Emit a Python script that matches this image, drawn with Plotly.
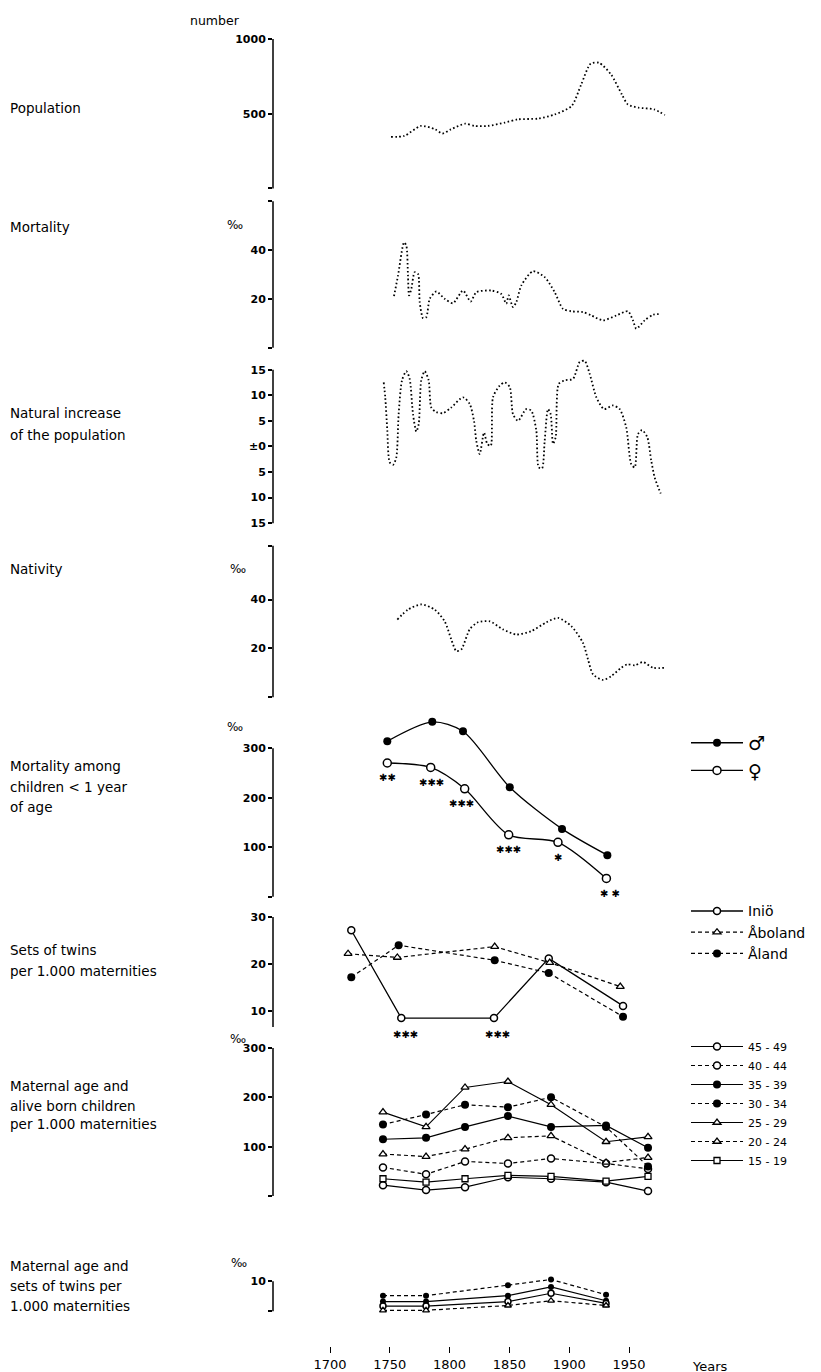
import plotly.graph_objects as go

# ---------------- DATA ----------------
pop_years = [1751, 1762, 1776, 1788, 1794, 1801, 1813, 1821, 1832, 1846, 1857, 1874,
             1888, 1902, 1910, 1918, 1925, 1935, 1944, 1949, 1958, 1971, 1980]
pop_values = [345, 351, 418, 395, 367, 395, 433, 418, 418, 440, 462, 467,
              495, 551, 695, 835, 840, 762, 629, 562, 540, 529, 491]

mort_years = [1753.5, 1756.9, 1761.9, 1763.8, 1765.2, 1766.1, 1768.0, 1770.8, 1773.6, 1775.0,
              1777.8, 1780.5, 1783.4, 1788.9, 1795.9, 1802.8, 1811.2, 1817.6, 1822.3, 1834.9,
              1843.2, 1847.4, 1849.4, 1853.0, 1855.8, 1860.0, 1869.7, 1879.5, 1887.9, 1894.8,
              1901.8, 1911.5, 1918.5, 1928.3, 1939.4, 1949.2, 1953.3, 1956.1, 1963.1, 1970.1, 1977.0]
mort_values = [21.1, 29.6, 43.1, 41.8, 29.6, 21.4, 24.1, 30.9, 30.2, 18.7,
               12.1, 12.5, 20.0, 23.0, 20.0, 18.2, 23.4, 18.9, 22.7, 23.4,
               22.0, 18.0, 21.4, 16.6, 18.7, 25.5, 31.3, 28.9, 22.7, 15.9,
               14.9, 14.6, 13.2, 11.2, 13.2, 14.9, 11.2, 7.8, 11.2, 13.5, 13.8]

nat_years = [1744.9, 1746.2, 1747.9, 1749.9, 1752.7, 1755.4, 1757.4, 1760.2, 1763.8, 1766.6,
             1769.4, 1772.2, 1774.2, 1776.3, 1779.2, 1782.5, 1784.7, 1788.9, 1794.5, 1801.4,
             1811.2, 1816.8, 1820.4, 1822.3, 1825.2, 1828.8, 1831.5, 1834.4, 1836.3, 1841.9,
             1846.1, 1850.3, 1853.0, 1857.2, 1864.1, 1868.3, 1872.5, 1874.5, 1877.3, 1879.5,
             1882.3, 1884.5, 1886.5, 1888.7, 1891.2, 1896.2, 1903.2, 1908.8, 1913.0, 1917.1,
             1922.7, 1929.1, 1936.6, 1942.2, 1947.7, 1951.9, 1954.8, 1957.5, 1960.9, 1965.3,
             1968.6, 1971.5, 1976.5]
nat_values = [12.5, 9.6, 3.1, -3.1, -3.6, -2.2, 6.3, 12.9, 14.7, 13.2,
              6.3, 2.9, 4.4, 12.9, 14.7, 12.9, 7.6, 6.7, 6.5, 7.6,
              9.6, 8.3, 5.0, 1.1, -1.5, 2.7, 0.5, 0.1, 9.6, 11.9,
              12.5, 11.6, 6.3, 5.0, 7.3, 7.0, 3.1, -4.1, -4.3, 1.1,
              7.3, 6.3, 0.5, 1.8, 12.2, 12.9, 13.2, 16.5, 16.7, 14.2,
              9.6, 7.3, 8.0, 7.3, 3.7, -3.5, -4.1, 2.4, 3.2, 1.8,
              -2.8, -6.1, -9.2]

nativ_years = [1756.3, 1765.2, 1776.3, 1787.5, 1795.9, 1801.4, 1805.6, 1809.8, 1816.8, 1823.7,
               1833.5, 1844.6, 1855.8, 1868.3, 1880.9, 1890.6, 1901.8, 1911.5, 1915.7, 1919.9,
               1928.3, 1935.2, 1943.6, 1948.6, 1954.8, 1961.7, 1970.1, 1981.2]
nativ_values = [31.8, 35.9, 38.0, 35.9, 31.1, 23.7, 18.9, 19.6, 27.8, 30.7,
                31.1, 27.8, 25.7, 27.1, 30.7, 32.5, 29.1, 22.3, 15.5, 9.4,
                7.1, 8.7, 12.1, 13.5, 13.1, 14.4, 12.1, 12.1]

child_male_years = [1747.9, 1785.5, 1811.2, 1850.3, 1894.0, 1931.9]
child_male_values = [314, 353, 334, 221, 137, 84]
child_female_years = [1747.9, 1784.2, 1812.6, 1849.4, 1890.6, 1931.1]
child_female_values = [270, 261, 218, 125, 110, 37]
child_signif = ["✱✱", "✱✱✱", "✱✱✱", "✱✱✱", "✱", "✱ ✱"]

twin_inio_years = [1717.8, 1759.6, 1837.1, 1882.9, 1945.0]
twin_inio_values = [27.2, 8.5, 8.5, 21.2, 11.1]
twin_inio_signif = ["", "✱✱✱", "✱✱✱", "", ""]
twin_aboland_years = [1715.1, 1756.3, 1837.7, 1883.7, 1942.7]
twin_aboland_values = [22.2, 21.4, 23.7, 20.3, 15.2]
twin_aland_years = [1717.8, 1757.4, 1837.7, 1882.9, 1945.0]
twin_aland_values = [17.2, 24.0, 20.8, 18.1, 8.8]

mat_years = [1744.3, 1780.3, 1812.9, 1848.8, 1884.8, 1930.8, 1965.9]
mat_45_49 = [22, 12, 18, 38, 35, 28, 10]
mat_40_44 = [58, 44, 70, 66, 76, 66, 55]
mat_35_39 = [115, 118, 140, 162, 140, 143, 98]
mat_30_34 = [145, 165, 185, 180, 200, 140, 60]
mat_25_29 = [170, 140, 220, 232, 185, 110, 120]
mat_20_24 = [85, 80, 95, 118, 122, 68, 78]
mat_15_19 = [35, 28, 35, 42, 40, 30, 40]

mt_years = [1744.3, 1780.3, 1848.8, 1884.8, 1930.8]
mt_30_34 = [5.2, 5.2, 8.7, 10.6, 5.5]
mt_35_39 = [3.2, 3.2, 5.2, 8.1, 3.5]
mt_45_49 = [1.7, 1.7, 3.2, 6.0, 2.6]
mt_20_24 = [0.3, 0.3, 1.9, 3.5, 1.9]

x_ticks = [1700, 1750, 1800, 1850, 1900, 1950]

# ---------------- LAYOUT HELPERS ----------------
W, H = 821, 1372
FONT = "DejaVu Sans"


def py(p):
    return (H - p) / H


def px(p):
    return p / W


X0_PX, X1_PX = 265, 680
YEAR_AT_X0 = 1700 + (X0_PX - 322) / 1.196
YEAR_AT_X1 = 1700 + (X1_PX - 322) / 1.196

fig = go.Figure()

DOT = "1.6px,2.4px"
DASH = "4px,3px"


def dotted(x, y, ax):
    fig.add_trace(go.Scatter(x=x, y=y, mode="lines", xaxis="x", yaxis=ax, showlegend=False,
                             line=dict(color="black", width=1.8, dash=DOT, shape="spline", smoothing=0.7),
                             hoverinfo="skip"))


dotted(pop_years, pop_values, "y")
dotted(mort_years, mort_values, "y2")
dotted(nat_years, nat_values, "y3")
dotted(nativ_years, nativ_values, "y4")

# children mortality
fig.add_trace(go.Scatter(x=child_male_years, y=child_male_values, mode="lines+markers", name="♂",
                         xaxis="x", yaxis="y5", legend="legend",
                         line=dict(color="black", width=1.3, shape="spline", smoothing=0.8),
                         marker=dict(symbol="circle", size=8, color="black")))
fig.add_trace(go.Scatter(x=child_female_years, y=child_female_values, mode="lines+markers", name="♀",
                         xaxis="x", yaxis="y5", legend="legend",
                         line=dict(color="black", width=1.3, shape="spline", smoothing=0.8),
                         marker=dict(symbol="circle", size=8, color="white",
                                     line=dict(color="black", width=1.5))))

# twins
open_c = dict(symbol="circle", size=7, color="white", line=dict(color="black", width=1.5))
fill_c = dict(symbol="circle", size=8, color="black")
open_t = dict(symbol="triangle-up", size=7, color="white", line=dict(color="black", width=1.3))
open_s = dict(symbol="square", size=6, color="white", line=dict(color="black", width=1.3))

fig.add_trace(go.Scatter(x=twin_inio_years, y=twin_inio_values, mode="lines+markers", name="Iniö",
                         xaxis="x", yaxis="y6", legend="legend2",
                         line=dict(color="black", width=1.3), marker=open_c))
fig.add_trace(go.Scatter(x=twin_aboland_years, y=twin_aboland_values, mode="lines+markers", name="Åboland",
                         xaxis="x", yaxis="y6", legend="legend2",
                         line=dict(color="black", width=1.2, dash=DASH), marker=open_t))
fig.add_trace(go.Scatter(x=twin_aland_years, y=twin_aland_values, mode="lines+markers", name="Åland",
                         xaxis="x", yaxis="y6", legend="legend2",
                         line=dict(color="black", width=1.2, dash=DASH), marker=fill_c))

# maternal age
mat_series = [
    ("45 - 49", mat_45_49, "solid", open_c),
    ("40 - 44", mat_40_44, DASH, open_c),
    ("35 - 39", mat_35_39, "solid", fill_c),
    ("30 - 34", mat_30_34, DASH, fill_c),
    ("25 - 29", mat_25_29, "solid", open_t),
    ("20 - 24", mat_20_24, DASH, open_t),
    ("15 - 19", mat_15_19, "solid", open_s),
]
for name, vals, dash, mk in mat_series:
    fig.add_trace(go.Scatter(x=mat_years, y=vals, mode="lines+markers", name=name,
                             xaxis="x", yaxis="y7", legend="legend3",
                             line=dict(color="black", width=1.2, dash=dash), marker=mk))

mt_series = [
    (mt_30_34, DASH, fill_c),
    (mt_35_39, "solid", fill_c),
    (mt_45_49, "solid", open_c),
    (mt_20_24, DASH, open_t),
]
for vals, dash, mk in mt_series:
    fig.add_trace(go.Scatter(x=mt_years, y=vals, mode="lines+markers", showlegend=False,
                             xaxis="x", yaxis="y8",
                             line=dict(color="black", width=1.2, dash=dash),
                             marker=dict(mk, size=6)))

for tr in fig.data:
    tr.cliponaxis = False

# ---------------- AXES ----------------
tickfont = dict(family=FONT, size=11, color="black", weight="bold")
base_y = dict(showline=False, ticks="outside", ticklen=4,
              tickwidth=1.5, tickcolor="black", showgrid=False, zeroline=False,
              tickfont=tickfont, anchor="x", fixedrange=True)

# (value_a, pixel_a, value_b, pixel_b, axis-line low value, axis-line high value, area top px, area bottom px,
#  tick values, tick texts)
panels = [
    ("yaxis", "y", 1000, 31, 500, 106, 0, 1000, 20, 186,
     [0, 500, 1000], ["", "500", "1000"]),
    ("yaxis2", "y2", 40, 242.7, 20, 291.7, 0, 60, 188, 342,
     [0, 20, 40, 60], ["", "20", "40", ""]),
    ("yaxis3", "y3", 15, 362.7, -15, 516.7, -15, 15, 344, 520,
     [-15, -10, -5, 0, 5, 10, 15], ["15", "10", "5", "±0", "5", "10", "15"]),
    ("yaxis4", "y4", 40, 593.3, 20, 642.3, 0, 62, 530, 694,
     [0, 20, 40, 62], ["", "20", "40", ""]),
    ("yaxis5", "y5", 300, 742.3, 100, 841.7, 0, 300, 700, 895,
     [0, 100, 200, 300], ["", "100", "200", "300"]),
    ("yaxis6", "y6", 30, 911.7, 10, 1006, 6.6, 30, 900, 1025,
     [10, 20, 30], ["10", "20", "30"]),
    ("yaxis7", "y7", 300, 1043, 100, 1142, 0, 300, 1030, 1195,
     [0, 100, 200, 300], ["", "100", "200", "300"]),
    ("yaxis8", "y8", 10, 1277, 0, 1307, 0, 10, 1262, 1310,
     [0, 10], ["", "10"]),
]
layout_axes = {}
shapes = []
for i, (key, ref, va, pa, vb, pb, lo, hi, ptop, pbot, tv, tt) in enumerate(panels):
    slope = (pb - pa) / (vb - va)
    v_top = va + (ptop - pa) / slope
    v_bot = va + (pbot - pa) / slope
    d = dict(base_y)
    d.update(domain=[py(pbot), py(ptop)], range=[v_bot, v_top], tickvals=tv, ticktext=tt)
    layout_axes[key] = d
    # overlay axis giving the right half of each "+" tick cross
    layout_axes["yaxis%d" % (9 + i)] = dict(
        overlaying=ref, anchor="x", side="left", range=[v_bot, v_top], tickvals=tv,
        showticklabels=False, ticks="inside", ticklen=4, tickwidth=1.5, tickcolor="black",
        showgrid=False, zeroline=False, showline=False, fixedrange=True)
    shapes.append(dict(type="line", xref="paper", x0=px(X0_PX), x1=px(X0_PX),
                       yref=ref, y0=lo, y1=hi, line=dict(color="black", width=1.5)))

fig.update_layout(**layout_axes)
fig.update_layout(
    shapes=shapes,
    xaxis=dict(domain=[px(X0_PX), px(X1_PX)], range=[YEAR_AT_X0, YEAR_AT_X1],
               anchor="free", position=py(1342), showline=False, showgrid=False, zeroline=False,
               ticks="outside", ticklen=6, tickwidth=1.3, tickcolor="black",
               tickvals=x_ticks, ticktext=[str(t) for t in x_ticks],
               tickfont=dict(family=FONT, size=13, color="black"), fixedrange=True),
)

# ---------------- TEXT ----------------
ann = []


def text(t, x, y, size=13.5, anchor="left", **kw):
    ann.append(dict(text=t, x=px(x), y=py(y), xref="paper", yref="paper", showarrow=False,
                    xanchor=anchor, yanchor="middle",
                    font=dict(family=FONT, size=size, color="black"), **kw))


left_labels = [
    ("Population", 100), ("Mortality", 220),
    ("Natural increase", 406), ("of the population", 428),
    ("Nativity", 563),
    ("Mortality among", 760), ("children &lt; 1 year", 781), ("of age", 801),
    ("Sets of twins", 945), ("per 1.000 maternities", 966),
    ("Maternal age and", 1081), ("alive born children", 1101), ("per 1.000 maternities", 1119),
    ("Maternal age and", 1262), ("sets of twins per", 1282), ("1.000 maternities", 1302),
]
for t, y in left_labels:
    text(t, 0, y)

text("number", 207, 13, size=12.5, anchor="center")
for x, y in [(227, 218), (230, 563), (227, 721), (230, 1034), (231, 1259)]:
    text("‰", x, y, size=12, anchor="center")
text("Years", 702, 1362, size=13, anchor="center")

# significance asterisks
child_shift = [0, 1, -3, 0, 0, 4]
for xv, yv, s, xs in zip(child_female_years, child_female_values, child_signif, child_shift):
    if s:
        ann.append(dict(text=s, x=xv, y=yv, xref="x", yref="y5", showarrow=False, yshift=-15,
                        xshift=xs, font=dict(family=FONT, size=10, color="black")))
for xv, yv, s in zip(twin_inio_years, twin_inio_values, twin_inio_signif):
    if s:
        ann.append(dict(text=s, x=xv, y=yv, xref="x", yref="y6", showarrow=False, yshift=-16,
                        xshift=4, font=dict(family=FONT, size=10, color="black")))

fig.update_layout(annotations=ann)

# ---------------- LEGENDS ----------------
leg_common = dict(xanchor="left", yanchor="top", bgcolor="rgba(0,0,0,0)", itemwidth=52,
                  tracegroupgap=0, itemclick=False, itemdoubleclick=False)
fig.update_layout(
    legend=dict(leg_common, x=px(678), y=py(718), font=dict(family=FONT, size=19, color="black")),
    legend2=dict(leg_common, x=px(678), y=py(890), font=dict(family=FONT, size=14, color="black")),
    legend3=dict(leg_common, x=px(678), y=py(1027), font=dict(family=FONT, size=11, color="black")),
)

fig.update_layout(width=W, height=H, margin=dict(l=0, r=0, t=0, b=0),
                  paper_bgcolor="white", plot_bgcolor="white", showlegend=True)

fig.write_html("out.html")
